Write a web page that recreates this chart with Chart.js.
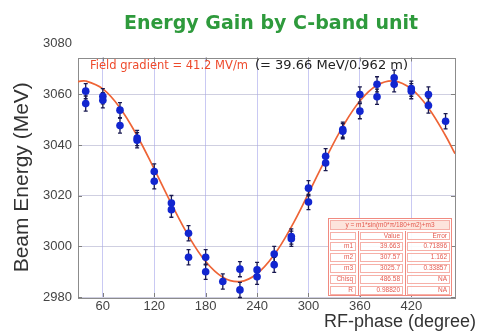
<!DOCTYPE html>
<html><head><meta charset="utf-8">
<script src="https://cdn.jsdelivr.net/npm/chart.js@4.4.1/dist/chart.umd.min.js"></script>
<style>html,body{margin:0;padding:0;background:#fff;}#wrap{width:481px;height:336px;position:relative;}</style>
</head><body><div id="wrap"><canvas id="c" width="481" height="336"></canvas></div>
<script>
const titleText = 'Energy Gain by C-band unit';
const xTitle = 'RF-phase (degree)';
const yTitle = 'Beam Energy (MeV)';
const noteRed = 'Field gradient = 41.2 MV/m';
const noteBlack = '(= 39.66 MeV/0.962 m)';
const xTicks = [60, 120, 180, 240, 300, 360, 420];
const yTicks = [2980, 3000, 3020, 3040, 3060, 3080];
const phase = [40,40,60,60,80,80,100,100,120,120,140,140,160,160,180,180,200,220,220,240,240,260,260,280,280,300,300,320,320,340,340,360,360,380,380,400,400,420,420,440,440,460];
const energy = [3061.3,3056.4,3059.3,3057.7,3053.8,3047.7,3042.8,3041.9,3029.6,3025.7,3017.1,3014.5,3005.2,2995.7,2995.7,2990.0,2986.1,2991.0,2982.8,2990.7,2988.0,2997.0,2992.7,3003.9,3003.0,3023.0,3017.5,3035.6,3032.9,3046.1,3045.5,3060.0,3053.4,3064.0,3059.1,3066.6,3064.0,3062.3,3061.3,3060.0,3055.6,3049.4];
const energyErr = [3,3,3,3,3,3,3,3,3,3,3,3,3,3,3,3,3,3,3,3,3,3,3,3,3,3,3,3,3,3,3,3,3,3,3,3,3,3,3,3,3,3];
const fitPhase = [31,40,60,80,100,120,140,160,180,200,220,240,260,280,300,320,340,360,380,400,420,440,460,471];
const fitEnergy = [3065.1,3065.3,3062.2,3054.7,3043.7,3030.5,3016.8,3004.1,2994.0,2987.8,2986.1,2989.2,2996.7,3007.7,3020.9,3034.6,3047.3,3057.4,3063.6,3065.3,3062.2,3054.7,3043.7,3036.6];
const tableHead = 'y = m1*sin(m0*π/180+m2)+m3';
const tableCols = ['', 'Value', 'Error'];
const tableRows = ['m1', 'm2', 'm3', 'Chisq', 'R'];
const tableValues = ['39.663', '307.57', '3025.7', '486.58', '0.98820'];
const tableErrors = ['0.71896', '1.162', '0.33857', 'NA', 'NA'];

const titlePlugin = {
  id: 'titlePos',
  afterLayout(chart) {
    const t = chart.titleBlock;
    if (t) {
      const c = (chart.chartArea.left + chart.chartArea.right) / 2 + 4.5;
      t.left = c - 200; t.right = c + 200;
    }
  }
};

const framePlugin = {
  id: 'frame',
  beforeDatasetsDraw(chart) {
    const {ctx, chartArea: a, scales: {x, y}} = chart;
    ctx.save();
    ctx.strokeStyle = '#8c8c8c'; ctx.lineWidth = 1;
    ctx.strokeRect(Math.round(a.left) + 0.5, Math.round(a.top) + 0.5, Math.round(a.right - a.left), Math.round(a.bottom - a.top));
    ctx.strokeStyle = '#808080';
    xTicks.forEach(v => {
      const px = Math.round(x.getPixelForValue(v)) + 0.5;
      ctx.beginPath(); ctx.moveTo(px, a.top); ctx.lineTo(px, a.top + 4);
      ctx.moveTo(px, a.bottom); ctx.lineTo(px, a.bottom - 4); ctx.stroke();
    });
    yTicks.forEach(v => {
      if (v > y.max) return;
      const py = Math.round(y.getPixelForValue(v)) + 0.5;
      ctx.beginPath(); ctx.moveTo(a.right, py); ctx.lineTo(a.right - 4, py);
      ctx.moveTo(a.left, py); ctx.lineTo(a.left + 4, py); ctx.stroke();
    });
    ctx.restore();
  }
};

const errPlugin = {
  id: 'errbars',
  afterDatasetDraw(chart, args) {
    if (args.index !== 1) return;
    const {ctx, scales: {x, y}} = chart;
    ctx.save();
    ctx.strokeStyle = '#181850'; ctx.lineWidth = 1.3;
    phase.forEach((p, i) => {
      const px = x.getPixelForValue(p);
      const y1 = y.getPixelForValue(energy[i] + energyErr[i]);
      const y2 = y.getPixelForValue(energy[i] - energyErr[i]);
      ctx.beginPath();
      ctx.moveTo(px, y1); ctx.lineTo(px, y2);
      ctx.moveTo(px - 2, y1); ctx.lineTo(px + 2, y1);
      ctx.moveTo(px - 2, y2); ctx.lineTo(px + 2, y2);
      ctx.stroke();
    });
    ctx.restore();
  }
};

const textPlugin = {
  id: 'texts',
  afterDraw(chart) {
    const {ctx, chartArea: a} = chart;
    ctx.save();
    // annotation
    ctx.textBaseline = 'alphabetic'; ctx.textAlign = 'left';
    ctx.fillStyle = '#ee4a2c';
    ctx.font = '13px "DejaVu Sans", sans-serif';
    ctx.fillText(noteRed, a.left + 12, a.top + 11, 158);
    ctx.fillStyle = '#222';
    ctx.fillText(noteBlack, a.left + 177, a.top + 11);
    // x title
    ctx.fillStyle = '#333';
    ctx.font = '18px "Liberation Sans", Arial, sans-serif';
    ctx.textAlign = 'right'; ctx.textBaseline = 'middle';
    ctx.fillText(xTitle, a.right + 21, a.bottom + 25);
    // table
    const x0 = a.right - 127, x1 = a.right - 3, y0 = a.bottom - 79, y1 = a.bottom - 1;
    const cx = [x0, x0 + 30, x0 + 77, x1];
    const ry = [y0, y0 + 13, y0 + 23, y0 + 34, y0 + 45, y0 + 56, y0 + 67, y1];
    ctx.fillStyle = 'rgba(255,255,255,0.92)';
    ctx.fillRect(x0, y0, x1 - x0, y1 - y0);
    ctx.fillStyle = '#fde4dc';
    ctx.fillRect(x0 + 2, y0 + 2, x1 - x0 - 4, 9);
    ctx.strokeStyle = '#f08a80'; ctx.lineWidth = 1;
    ctx.strokeRect(x0 + 0.5, y0 + 0.5, x1 - x0 - 1, y1 - y0 - 1);
    ctx.strokeStyle = '#f6b0a8';
    ctx.strokeRect(x0 + 2.5, y0 + 2.5, x1 - x0 - 5, 9);
    for (let r = 1; r < ry.length - 1; r++) {
      for (let c = 0; c < 3; c++) {
        ctx.strokeRect(cx[c] + 2.5, ry[r] + 1.5, cx[c + 1] - cx[c] - 5, ry[r + 1] - ry[r] - 3);
      }
    }
    ctx.strokeStyle = '#f08a80';
    ctx.beginPath();
    ctx.moveTo(cx[1] + 0.5, ry[1]); ctx.lineTo(cx[1] + 0.5, y1);
    ctx.moveTo(cx[2] + 0.5, ry[1]); ctx.lineTo(cx[2] + 0.5, y1);
    ctx.stroke();
    ctx.fillStyle = '#e45a50';
    ctx.font = '6.5px "Liberation Sans", Arial, sans-serif';
    ctx.textBaseline = 'middle'; ctx.textAlign = 'center';
    ctx.fillText(tableHead, (x0 + x1) / 2, y0 + 7, x1 - x0 - 10);
    ctx.textAlign = 'right';
    for (let c = 1; c < 3; c++) ctx.fillText(tableCols[c], cx[c + 1] - 5, (ry[1] + ry[2]) / 2);
    tableRows.forEach((lab, i) => {
      const yy = (ry[i + 2] + ry[i + 3]) / 2;
      ctx.fillText(lab, cx[1] - 5, yy);
      ctx.fillText(tableValues[i], cx[2] - 5, yy);
      ctx.fillText(tableErrors[i], cx[3] - 5, yy);
    });
    ctx.restore();
  }
};

const pts = phase.map((p, i) => ({x: p, y: energy[i]}));
const fit = fitPhase.map((p, i) => ({x: p, y: fitEnergy[i]}));

new Chart(document.getElementById('c'), {
  type: 'scatter',
  data: {
    datasets: [
      {label: 'Measured', data: pts, showLine: false, pointRadius: 3.8, pointBackgroundColor: '#1226d0', pointBorderWidth: 0, pointBorderColor: '#1226d0'},
      {label: 'Fit', data: fit, showLine: true, pointRadius: 0, borderColor: '#ee6436', borderWidth: 1.7, tension: 0.4, fill: false}
    ]
  },
  options: {
    responsive: false, animation: false,
    layout: {padding: {left: 0, right: 26, top: 0, bottom: 0}},
    plugins: {
      legend: {display: false}, tooltip: {enabled: false},
      title: {display: true, text: titleText, color: '#2e9a3c', font: {family: 'DejaVu Sans', size: 19, weight: 'bold'}, padding: {top: 12.6, bottom: 22.1}}
    },
    scales: {
      x: {
        type: 'linear', min: 31, max: 471,
        ticks: {stepSize: 60, color: '#444', font: {family: 'Liberation Sans', size: 13}, padding: 1.5, callback: v => String(v)},
        afterBuildTicks: s => { s.ticks = xTicks.map(v => ({value: v})); },
        grid: {color: 'rgba(165,165,235,0.6)', drawTicks: false},
        border: {display: false},
        afterFit: s => { s.height = 39; }
      },
      y: {
        type: 'linear', min: 2980, max: 3074.6,
        ticks: {stepSize: 20, color: '#444', font: {family: 'Liberation Sans', size: 13}, padding: 6, callback: v => String(v)},
        afterBuildTicks: s => { s.ticks = yTicks.map(v => ({value: v})); },
        grid: {color: c => (c.tick && c.tick.value > 3075) ? 'rgba(0,0,0,0)' : 'rgba(175,175,205,0.6)', drawTicks: false},
        border: {display: false},
        title: {display: true, text: yTitle, color: '#333', font: {family: 'Liberation Sans', size: 21}, padding: {top: 9.4, bottom: 0}},
        afterFit: s => { s.width = 78; }
      }
    }
  },
  plugins: [titlePlugin, framePlugin, errPlugin, textPlugin]
});
</script>
</body></html>
